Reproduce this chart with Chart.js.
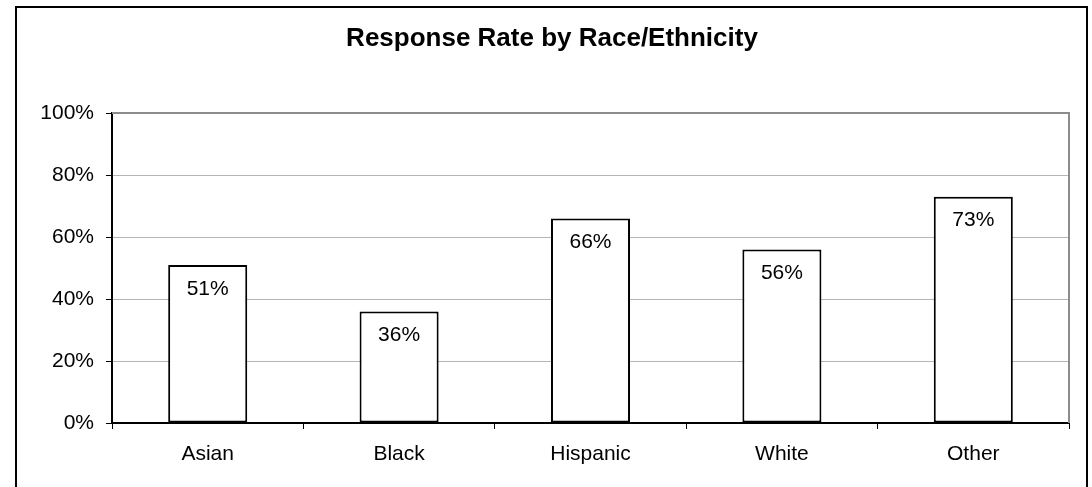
<!DOCTYPE html>
<html lang="en">
<head>
    <meta charset="UTF-8">
    <title>Response Rate by Race/Ethnicity</title>
    <script src="https://cdn.jsdelivr.net/npm/chart.js@4.4.1/dist/chart.umd.min.js"></script>
    <style>
        * {
            margin: 0;
            padding: 0;
            box-sizing: border-box;
        }

        body {
            background: #ffffff;
            width: 1092px;
            height: 487px;
            overflow: hidden;
        }
    </style>
</head>
<body>
    <canvas id="rateChart" width="1092" height="487"></canvas>

    <script>
        // Data
        const chartTitle = 'Response Rate by Race/Ethnicity';
        const categories = ['Asian', 'Black', 'Hispanic', 'White', 'Other'];
        const responseRates = [51, 36, 66, 56, 73];
        const yTicks = [0, 20, 40, 60, 80, 100];

        const fontFamily = '"Liberation Sans", Arial, sans-serif';

        // Outer frame, title, plot border and the value labels inside each bar
        const excelLook = {
            id: 'excelLook',
            beforeDraw(chart) {
                const ctx = chart.ctx;
                ctx.save();
                ctx.fillStyle = '#ffffff';
                ctx.fillRect(0, 0, chart.width, chart.height);
                ctx.strokeStyle = '#000000';
                ctx.lineWidth = 2;
                ctx.strokeRect(16, 7, 1071, 500);

                ctx.fillStyle = '#000000';
                ctx.font = 'bold 26px ' + fontFamily;
                ctx.textAlign = 'center';
                ctx.textBaseline = 'middle';
                ctx.fillText(chartTitle, 552, 39);
                ctx.restore();
            },
            beforeDatasetsDraw(chart) {
                const ctx = chart.ctx;
                const a = chart.chartArea;
                ctx.save();
                ctx.strokeStyle = '#8c8c8c';
                ctx.lineWidth = 2;
                ctx.beginPath();
                ctx.moveTo(a.left, a.top);
                ctx.lineTo(a.right, a.top);
                ctx.lineTo(a.right, a.bottom);
                ctx.stroke();
                ctx.restore();
            },
            afterDatasetsDraw(chart) {
                const ctx = chart.ctx;
                const meta = chart.getDatasetMeta(0);
                ctx.save();
                ctx.fillStyle = '#000000';
                ctx.font = '21px ' + fontFamily;
                ctx.textAlign = 'center';
                ctx.textBaseline = 'middle';
                meta.data.forEach((bar, i) => {
                    ctx.fillText(responseRates[i] + '%', bar.x, bar.y + 24);
                });
                ctx.restore();
            }
        };

        new Chart(document.getElementById('rateChart'), {
            type: 'bar',
            data: {
                labels: categories,
                datasets: [{
                    data: responseRates,
                    backgroundColor: '#ffffff',
                    borderColor: '#000000',
                    borderWidth: 2,
                    borderSkipped: false,
                    categoryPercentage: 1,
                    barPercentage: 0.413
                }]
            },
            options: {
                responsive: false,
                animation: false,
                devicePixelRatio: 1,
                layout: {
                    padding: { left: 0, top: 113, right: 23, bottom: 0 }
                },
                plugins: {
                    legend: { display: false },
                    title: { display: false },
                    tooltip: { enabled: false }
                },
                scales: {
                    x: {
                        afterFit(scale) { scale.height = 64; },
                        grid: {
                            offset: true,
                            drawOnChartArea: false,
                            drawTicks: true,
                            tickLength: 6,
                            tickColor: '#000000',
                            tickWidth: 1
                        },
                        border: { color: '#000000', width: 2 },
                        ticks: {
                            color: '#000000',
                            padding: 13,
                            maxRotation: 0,
                            font: { family: fontFamily, size: 21 }
                        }
                    },
                    y: {
                        min: 0,
                        max: 100,
                        afterFit(scale) { scale.width = 112; },
                        afterBuildTicks(scale) {
                            scale.ticks = yTicks.map(v => ({ value: v }));
                        },
                        grid: {
                            color: '#b4b4b4',
                            lineWidth: 1,
                            drawTicks: true,
                            tickLength: 6,
                            tickColor: '#000000',
                            tickWidth: 1
                        },
                        border: { color: '#000000', width: 2 },
                        ticks: {
                            color: '#000000',
                            padding: 12,
                            font: { family: fontFamily, size: 21 },
                            callback: v => v + '%'
                        }
                    }
                }
            },
            plugins: [excelLook]
        });
    </script>
</body>
</html>
